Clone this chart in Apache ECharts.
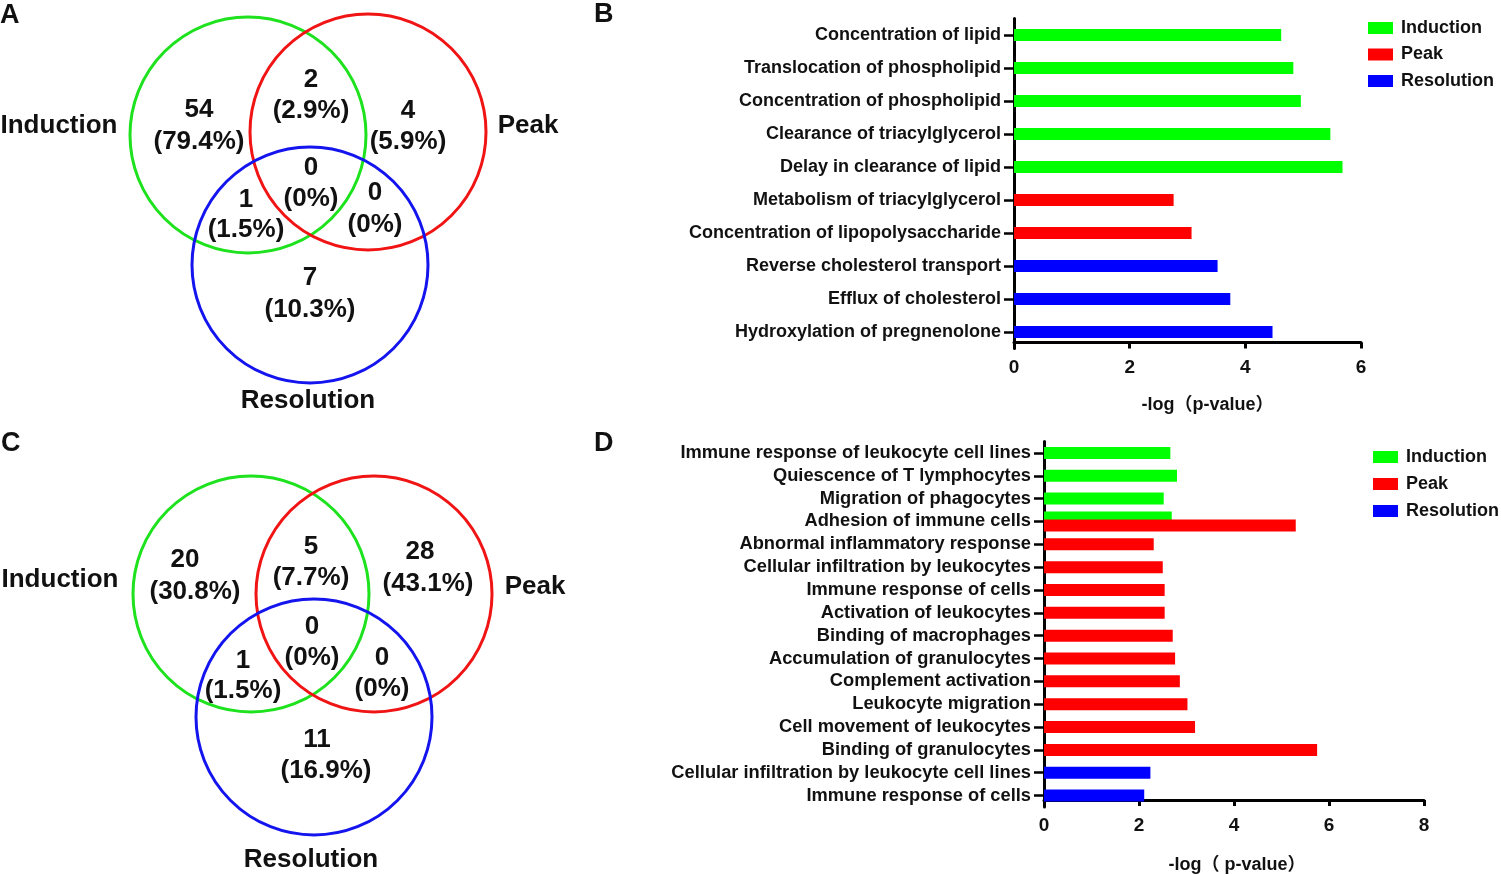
<!DOCTYPE html>
<html>
<head>
<meta charset="utf-8">
<script src="https://cdn.jsdelivr.net/npm/echarts@6/dist/echarts.min.js"></script>
<style>
  html, body { margin: 0; padding: 0; background: #ffffff; }
  #chart { width: 1501px; height: 875px; }
</style>
</head>
<body>
<div id="chart"></div>
<script>
// ---------------- DATA ----------------
const seriesNames = ['Induction', 'Peak', 'Resolution'];

// Venn region order: Induction only, Induction∩Peak, Peak only, all three, Induction∩Resolution, Peak∩Resolution, Resolution only
const vennACounts = [54, 2, 4, 0, 1, 0, 7];
const vennAPercents = ['79.4%', '2.9%', '5.9%', '0%', '1.5%', '0%', '10.3%'];
const vennCCounts = [20, 5, 28, 0, 1, 0, 11];
const vennCPercents = ['30.8%', '7.7%', '43.1%', '0%', '1.5%', '0%', '16.9%'];

// Panel B
const bCategories = [
  'Concentration of lipid', 'Translocation of phospholipid', 'Concentration of phospholipid',
  'Clearance of triacylglycerol', 'Delay in clearance of lipid', 'Metabolism of triacylglycerol',
  'Concentration of lipopolysaccharide', 'Reverse cholesterol transport', 'Efflux of cholesterol',
  'Hydroxylation of pregnenolone'
];
const bInduction  = [4.62, 4.83, 4.96, 5.47, 5.68, null, null, null, null, null];
const bPeak       = [null, null, null, null, null, 2.76, 3.07, null, null, null];
const bResolution = [null, null, null, null, null, null, null, 3.52, 3.74, 4.47];
const bTicks = [0, 2, 4, 6];

// Panel D
const dCategories = [
  'Immune response of leukocyte cell lines', 'Quiescence of T lymphocytes', 'Migration of phagocytes',
  'Adhesion of immune cells', 'Abnormal inflammatory response', 'Cellular infiltration by leukocytes',
  'Immune response of cells', 'Activation of leukocytes', 'Binding of macrophages',
  'Accumulation of granulocytes', 'Complement activation', 'Leukocyte migration',
  'Cell movement of leukocytes', 'Binding of granulocytes', 'Cellular infiltration by leukocyte cell lines',
  'Immune response of cells'
];
const dInduction  = [2.66, 2.80, 2.52, 2.69, null, null, null, null, null, null, null, null, null, null, null, null];
const dPeak       = [null, null, null, 5.30, 2.31, 2.50, 2.54, 2.54, 2.71, 2.76, 2.86, 3.02, 3.18, 5.75, null, null];
const dResolution = [null, null, null, null, null, null, null, null, null, null, null, null, null, null, 2.24, 2.11];
const dTicks = [0, 2, 4, 6, 8];

// ---------------- STYLE / LAYOUT ----------------
const barColors = ['#00ff00', '#ff0000', '#0000ff'];
const circleColors = ['#1de21d', '#f01414', '#1414ee'];
const FONT = '"Liberation Sans", Arial, Helvetica, sans-serif';
const CJKFONT = '"Liberation Sans", Arial, "Noto Sans CJK SC", sans-serif';

const vennLayouts = [
  {
    letter: ['A', 0, 16],
    circles: [[248, 135], [368, 132], [310, 265]], r: 118,
    setLabels: [[59, 126], [528, 126], [308, 401]],
    numPos: [[199, 110], [311, 80], [408, 111], [311, 168], [246, 200], [375, 193], [310, 278]],
    pctPos: [[199, 142], [311, 111], [408, 142], [311, 199], [246, 230], [375, 225], [310, 310]],
    counts: vennACounts, pcts: vennAPercents
  },
  {
    letter: ['C', 1, 444],
    circles: [[251, 594], [374, 594], [314, 717]], r: 118,
    setLabels: [[60, 580], [535, 587], [311, 860]],
    numPos: [[185, 560], [311, 547], [420, 552], [312, 627], [243, 661], [382, 658], [317, 740]],
    pctPos: [[195, 592], [311, 578], [428, 584], [312, 658], [243, 691], [382, 689], [326, 771]],
    counts: vennCCounts, pcts: vennCPercents
  }
];

function textEl(str, x, y, size, align) {
  return {
    type: 'text', x: x, y: y, z: 10,
    style: {
      text: str, fill: '#111', font: 'bold ' + size + 'px ' + FONT,
      align: align || 'center', verticalAlign: 'middle',
      textAlign: align || 'center', textVerticalAlign: 'middle'
    }
  };
}

const graphics = [];
vennLayouts.forEach(v => {
  graphics.push(textEl(v.letter[0], v.letter[1], v.letter[2], 27, 'left'));
  v.circles.forEach((c, i) => {
    graphics.push({
      type: 'circle', z: 5,
      shape: { cx: c[0], cy: c[1], r: v.r },
      style: { fill: 'none', stroke: circleColors[i], lineWidth: 3 }
    });
  });
  v.setLabels.forEach((p, i) => graphics.push(textEl(seriesNames[i], p[0], p[1], 26)));
  v.counts.forEach((n, i) => {
    graphics.push(textEl(String(n), v.numPos[i][0], v.numPos[i][1], 26));
    graphics.push(textEl('(' + v.pcts[i] + ')', v.pctPos[i][0], v.pctPos[i][1], 26));
  });
});
graphics.push(textEl('B', 594, 15, 27, 'left'));
graphics.push(textEl('D', 594, 444, 27, 'left'));

// ---------------- SERIES BUILDING ----------------
const dash = v => (v == null ? '-' : v);
const series = [];
[bInduction, bPeak, bResolution].forEach((arr, i) => {
  series.push({
    name: seriesNames[i], type: 'bar', xAxisIndex: 0, yAxisIndex: 0,
    data: arr.map(dash), barWidth: 12, barGap: '-100%',
    itemStyle: { color: barColors[i] }, silent: true
  });
});

// D: categories having both Induction and Peak values get paired bars on a twin axis
const dDual = dCategories.map((_, k) => dInduction[k] != null && dPeak[k] != null);
[dInduction, dPeak, dResolution].forEach((arr, i) => {
  series.push({
    name: seriesNames[i], type: 'bar', xAxisIndex: 1, yAxisIndex: 1,
    data: arr.map((v, k) => (dDual[k] ? '-' : dash(v))), barWidth: 12, barGap: '-100%',
    itemStyle: { color: barColors[i] }, silent: true
  });
});
[dInduction, dPeak].forEach((arr, i) => {
  series.push({
    name: seriesNames[i], type: 'bar', xAxisIndex: 1, yAxisIndex: 2,
    data: arr.map((v, k) => (dDual[k] ? dash(v) : '-')), barWidth: 12, barGap: '-33%',
    itemStyle: { color: barColors[i] }, silent: true
  });
});

const axisLineStyle = { lineStyle: { color: '#000', width: 3 } };

function catAxis(gridIndex, data, show, fontSize) {
  return {
    type: 'category', gridIndex: gridIndex, data: data, inverse: true, show: show,
    axisLine: axisLineStyle,
    axisTick: { show: true, alignWithLabel: true, interval: 0, length: 10, lineStyle: { color: '#000', width: 2.5 } },
    axisLabel: { interval: 0, margin: 13, color: '#111', fontFamily: FONT, fontWeight: 'bold', fontSize: fontSize },
    splitLine: { show: false }
  };
}
function valAxis(gridIndex, ticks, name, offset, nameGap, namePad, labelMargin) {
  return {
    type: 'value', gridIndex: gridIndex, min: ticks[0], max: ticks[ticks.length - 1],
    interval: ticks[1] - ticks[0], offset: offset,
    name: name, nameLocation: 'middle', nameGap: nameGap,
    nameTextStyle: { color: '#111', fontFamily: CJKFONT, fontWeight: 'bold', fontSize: 18, padding: namePad },
    axisLine: { show: true, lineStyle: { color: '#000', width: 3 } },
    axisTick: { show: true, length: 6, lineStyle: { color: '#000', width: 3 } },
    axisLabel: { margin: labelMargin, color: '#111', fontFamily: FONT, fontWeight: 'bold', fontSize: 19 },
    splitLine: { show: false }
  };
}

function legendAt(left, top, gap) {
  return {
    left: left, top: top, orient: 'vertical', itemWidth: 25, itemHeight: 12, itemGap: gap,
    icon: 'rect', selectedMode: false, data: seriesNames,
    textStyle: { color: '#111', fontFamily: FONT, fontWeight: 'bold', fontSize: 18, padding: [0, 0, 0, 3] }
  };
}

const option = {
  backgroundColor: '#ffffff',
  animation: false,
  grid: [
    { left: 1014, top: 18.5, width: 347, height: 330 },
    { left: 1044, top: 441.5, width: 380, height: 371 }
  ],
  xAxis: [
    valAxis(0, bTicks, '-log（p-value）', -6, 54, [0, 0, 0, 40], 16),
    valAxis(1, dTicks, '-log（ p-value）', -7, 56, [0, 0, 0, 6], 16)
  ],
  yAxis: [
    catAxis(0, bCategories, true, 18),
    catAxis(1, dCategories, true, 18.3),
    catAxis(1, dCategories, false, 18.3)
  ],
  legend: [legendAt(1363, 14, 8.5), legendAt(1368, 443, 9)],
  graphic: graphics,
  series: series
};

const chart = echarts.init(document.getElementById('chart'), null, { renderer: 'canvas' });
chart.setOption(option);
</script>
</body>
</html>
